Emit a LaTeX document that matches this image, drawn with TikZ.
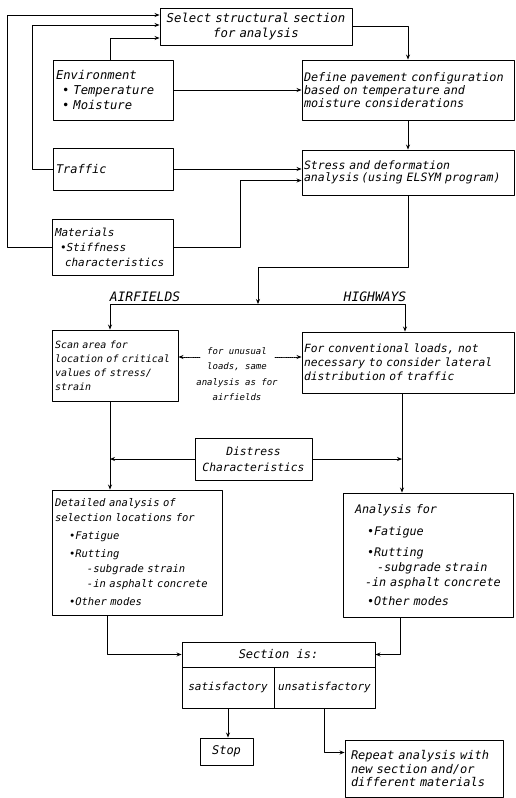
\documentclass[tikz,border=0pt]{standalone}
\usepackage{fontspec}
\setmainfont{DejaVu Sans Mono}
\usetikzlibrary{arrows.meta}
\newcommand{\fsz}[2]{\fontsize{#1}{#2}\selectfont}

\begin{document}
\begin{tikzpicture}[x=1pt,y=-1pt,font=\itshape\fsz{12}{13},line join=round,line cap=round,
	>={Stealth[length=5pt,width=4pt]},
	box/.style={draw,line width=0.9pt,inner xsep=3pt,inner ysep=0pt,align=left},
	cell/.style={draw,line width=0.9pt,inner sep=0pt,align=center},
	link/.style={line width=0.9pt,->}]
	\useasboundingbox (0,0) rectangle (515,798);
	% boxes
	\node[box,align=center,text width=186,minimum height=37,font=\itshape\fsz{12.3}{15}] (sel) at (256,26.5) {Select structural section\\for analysis};
	\node[box,text width=114,minimum height=60,font=\itshape\fsz{12.2}{15}] (env) at (113,90) {Environment\\\hspace*{6pt}• Temperature\\\hspace*{6pt}• Moisture};
	\node[box,inner xsep=2pt,text width=208,minimum height=60,font=\itshape\fsz{11.8}{12.8}] (def) at (408,90) {Define pavement configuration\\based on temperature and\\moisture considerations};
	\node[box,text width=114,minimum height=42] (traf) at (113,169) {Traffic};
	\node[box,inner xsep=2pt,text width=208,minimum height=45,font=\itshape\fsz{11.5}{12}] (stress) at (408,172.5) {Stress and deformation\\analysis\,(using ELSYM program)};
	\node[box,text width=115,minimum height=56,font=\itshape\fsz{11}{15}] (mat) at (112.5,247) {Materials\\\hspace*{5pt}•Stiffness\\\hspace*{10pt}characteristics};
	\node[font=\itshape\fsz{13}{13}] (air) at (145,297) {AIRFIELDS};
	\node[font=\itshape\fsz{13}{13}] (hwy) at (375,297) {HIGHWAYS};
	\node[box,text width=120,minimum height=71,font=\itshape\fsz{10}{14}] (scan) at (115,365.5) {Scan area for\\location of critical\\values of stress/\\strain};
	\node[box,inner xsep=2pt,text width=208,minimum height=61,font=\itshape\fsz{11.3}{14}] (conv) at (408,362.5) {For conventional loads, not\\necessary to consider lateral\\distribution of traffic};
	\node[align=center,font=\itshape\fsz{9}{15.5}] (note) at (237,374) {for unusual\\loads, same\\analysis as for\\airfields};
	\node[box,align=center,text width=111,minimum height=42,font=\itshape\fsz{11.3}{16}] (dist) at (253.5,459) {Distress\\Characteristics};
	\node[box,text width=164,minimum height=125,font=\itshape\fsz{10.5}{15}] (det) at (137,552.5) {Detailed analysis of\\selection locations for\\[3pt]
		\hspace*{14pt}•Fatigue\\[3pt]
		\hspace*{14pt}•Rutting\\
		\hspace*{32pt}-subgrade strain\\
		\hspace*{32pt}-in asphalt concrete\\[3pt]
		\hspace*{14pt}•Other modes};
	\node[box,text width=164,minimum height=124,font=\itshape\fsz{11.8}{15}] (ana) at (428,555) {\hspace*{9pt}Analysis for\\[7pt]
		\hspace*{21pt}•Fatigue\\[6pt]
		\hspace*{21pt}•Rutting\\
		\hspace*{31pt}-subgrade strain\\
		\hspace*{19pt}-in asphalt concrete\\[4pt]
		\hspace*{21pt}•Other modes};
	\node[cell,minimum width=193,minimum height=25] (sechd) at (278.5,654.5) {Section is:};
	\node[cell,minimum width=92,minimum height=41,font=\itshape\fsz{11}{13}] (secok) at (228,687.5) {satisfactory};
	\node[cell,minimum width=101,minimum height=41,font=\itshape\fsz{11}{13}] (secno) at (324.5,687.5) {unsatisfactory};
	\node[cell,minimum width=53,minimum height=27] (stop) at (226.5,751.5) {Stop};
	\node[box,inner xsep=6pt,text width=146,minimum height=57,font=\itshape\fsz{12}{13.5}] (rep) at (424,768.5) {Repeat analysis with\\new section and/or\\different materials};
	\coordinate (fork) at (258,304);
	\coordinate (nl) at (200,357);
	\coordinate (nr) at (275,357);
	% connectors
	\draw[link] (mat.west) -- ++(-44,0) |- ([yshift=11.5pt]sel.west);
	\draw[link] (traf.west) -- ++(-20,0) |- ([yshift=1.5pt]sel.west);
	\draw[link] ([xshift=-3pt]env.north) |- ([yshift=-11.5pt]sel.west);
	\draw[link] (sel.east) -| (def.north);
	\draw[link] (env.east) -- (def.west);
	\draw[link] (def.south) -- (stress.north);
	\draw[link] (traf.east) -- (traf.east -| stress.west);
	\draw[link] (mat.east) -- ++(67,0) |- ([yshift=-8pt]stress.west);
	\draw[link] (stress.south) -- ++(0,72) -| (fork);
	\draw[link] (fork) -| ([xshift=-5pt]scan.north);
	\draw[link] (fork) -| ([xshift=-3pt]conv.north);
	\draw[link,densely dotted] (nl) -- (nl -| scan.east);
	\draw[link,densely dotted] (nr) -- (nr -| conv.west);
	\draw[link] ([xshift=-5pt]scan.south) -- ([xshift=-5pt]scan.south |- det.north);
	\draw[link] ([xshift=-6pt]conv.south) -- ([xshift=-6pt]conv.south |- ana.north);
	\draw[link] (dist.west) -- ([xshift=-5pt]dist.west -| scan.south);
	\draw[link] (dist.east) -- ([xshift=-6pt]dist.east -| conv.south);
	\draw[link] ([xshift=-30pt]det.south) |- (sechd.west);
	\draw[link] ([xshift=-28pt]ana.south) |- (sechd.east);
	\draw[link] (secok.south) -- (secok.south |- stop.north);
	\draw[link] (secno.south) |- ([yshift=16pt]rep.west);
\end{tikzpicture}
\end{document}
